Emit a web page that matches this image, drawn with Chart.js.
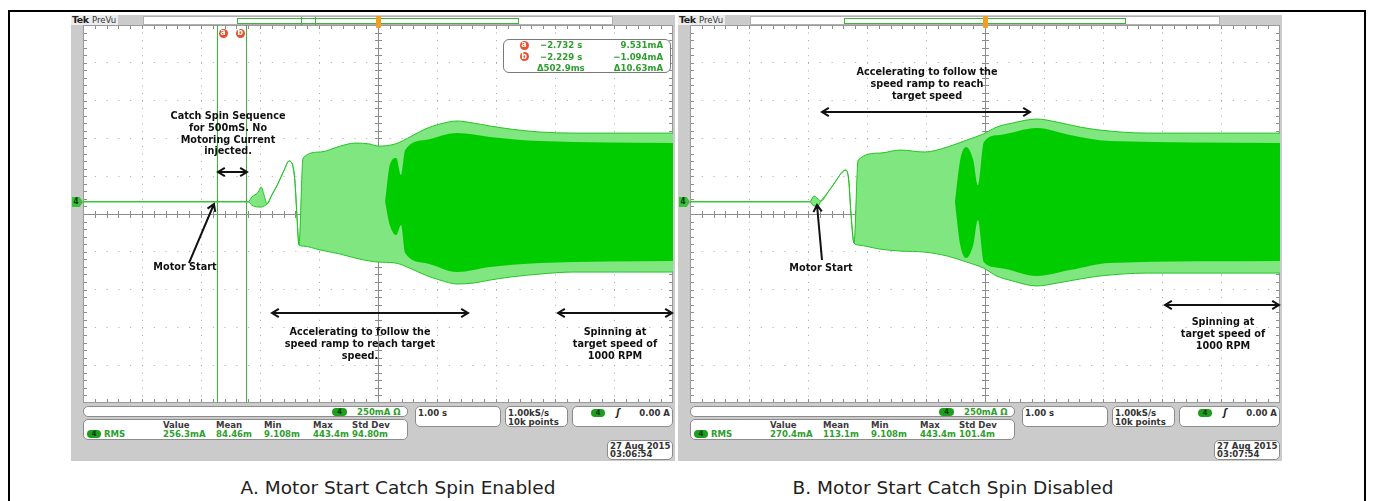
<!DOCTYPE html>
<html>
<head>
<meta charset="utf-8">
<script src="https://cdn.jsdelivr.net/npm/chart.js@4.4.0/dist/chart.umd.min.js"></script>
<style>
  body { margin: 0; background: #fff; }
  #page { position: relative; width: 1373px; height: 501px; overflow: hidden; font-family: "DejaVu Sans", sans-serif; }
  .abs { position: absolute; box-sizing: border-box; }
  .t { white-space: pre; line-height: 12px; height: 12px; }
  .st { font-family: "DejaVu Sans Condensed", "DejaVu Sans", sans-serif; font-weight: bold; font-size: 9.5px; }
  .ann { font-weight: bold; font-size: 9.7px; line-height: 11.7px; height: auto; text-align: center; color: #111; z-index: 5; }
  canvas { position: absolute; z-index: 1; background: #fff; }
  svg { position: absolute; left: 0; top: 0; z-index: 4; }
</style>
</head>
<body>
<div id="page">
  <canvas id="chartA" width="590" height="378" style="left:83px;top:25px"></canvas>
  <canvas id="chartB" width="590" height="378" style="left:690px;top:25px"></canvas>
  <svg id="arrows" width="1373" height="501"></svg>
</div>
<script>
// time in s (1.00 s/div), current in mA (250 mA/div)
const xDivs = [-5, -4, -3, -2, -1, 0, 1, 2, 3, 4, 5];
const yDivs = [-1331, -1081, -831, -581, -331, -81, 169, 419, 669, 919, 1169];

// A. catch spin enabled - outer envelope of the phase current
const tA  = [-5.0, -2.20, -2.14, -2.03, -1.98, -1.93, -1.88, -1.80, -1.69, -1.59, -1.51, -1.46, -1.41, -1.37, -1.34, -1.27, -0.98, -0.64, -0.39, -0.14, 0.0, 0.29, 0.54, 0.80, 1.05, 1.34, 1.61, 1.90, 2.24, 2.75, 3.31, 4.10, 5.0];
const upA = [0, 0, 31, 64, 97, 44, -15, 44, 124, 210, 269, 256, 144, -121, -286, 289, 329, 368, 388, 382, 368, 382, 428, 481, 514, 534, 521, 501, 481, 461, 454, 454, 454];
const loA = [0, 0, -22, -35, -35, -28, -15, 44, 124, 210, 269, 256, 144, -121, -286, -293, -319, -346, -372, -392, -399, -405, -439, -485, -518, -544, -538, -518, -498, -478, -465, -465, -465];
// dense core of the trace
const tcA  = [0.12, 0.20, 0.31, 0.39, 0.46, 0.80, 1.34, 1.90, 2.75, 5.0];
const cupA = [0, 243, 289, 177, 342, 408, 454, 428, 401, 388];
const cloA = [0, -154, -220, -154, -339, -405, -465, -432, -405, -392];
const cursorsA = [-2.732, -2.229];

// B. catch spin disabled
const tB  = [-5.0, -2.97, -2.90, -2.83, -2.78, -2.66, -2.54, -2.42, -2.36, -2.31, -2.27, -2.22, -2.15, -1.78, -1.44, -1.02, -0.64, -0.31, -0.03, 0.20, 0.47, 0.88, 1.22, 1.61, 1.95, 2.75, 5.0];
const upB = [0, 0, 38, 18, 5, 64, 130, 196, 210, 144, -88, -273, 276, 322, 342, 329, 362, 408, 448, 494, 521, 547, 527, 494, 474, 454, 454];
const loB = [0, 0, -28, -28, 5, 64, 130, 196, 210, 144, -88, -273, -286, -313, -326, -333, -359, -399, -438, -491, -524, -557, -538, -511, -491, -472, -472];
const tcB  = [-0.51, -0.42, -0.32, -0.20, -0.12, -0.02, 0.25, 0.88, 1.44, 2.12, 5.0];
const cupB = [0, 276, 362, 276, 110, 395, 441, 487, 441, 401, 388];
const cloB = [0, -286, -372, -286, -121, -399, -438, -491, -452, -405, -392];

const measHead = ["Value", "Mean", "Min", "Max", "Std Dev"];
const measA = ["256.3mA", "84.46m", "9.108m", "443.4m", "94.80m"];
const measB = ["270.4mA", "113.1m", "9.108m", "443.4m", "101.4m"];
const readA = [["-2.732 s", "9.531mA"], ["-2.229 s", "-1.094mA"], ["\u0394502.9ms", "\u039410.63mA"]];

const TRACE = "#25c425", LIGHT = "#80e680", DARK = "#00cc00", GREEN_TXT = "#2e9e2e";

const graticule = {
  id: "graticule",
  beforeDatasetsDraw(chart) {
    const { ctx, chartArea: a, scales: { x, y } } = chart;
    const cx = x.getPixelForValue(0);
    const cy = y.getPixelForValue((y.min + y.max) / 2);
    const dx = (x.getPixelForValue(1) - x.getPixelForValue(0)) / 5;
    const dy = (y.getPixelForValue(y.min) - y.getPixelForValue(y.min + 250)) / 5;
    ctx.save();
    ctx.strokeStyle = "#8c8c8c";
    ctx.lineWidth = 1;
    ctx.beginPath();
    ctx.moveTo(a.left, Math.round(cy) + 0.5); ctx.lineTo(a.right, Math.round(cy) + 0.5);
    ctx.moveTo(Math.round(cx) + 0.5, a.top); ctx.lineTo(Math.round(cx) + 0.5, a.bottom);
    for (let i = 1; i < 50; i++) {
      const px = Math.round(a.left + i * dx) + 0.5;
      ctx.moveTo(px, cy - 3); ctx.lineTo(px, cy + 4);
      ctx.moveTo(px, a.top); ctx.lineTo(px, a.top + 4);
      ctx.moveTo(px, a.bottom); ctx.lineTo(px, a.bottom - 4);
      const py = Math.round(a.top + i * dy) + 0.5;
      ctx.moveTo(cx - 3, py); ctx.lineTo(cx + 4, py);
      ctx.moveTo(a.left, py); ctx.lineTo(a.left + 4, py);
      ctx.moveTo(a.right, py); ctx.lineTo(a.right - 4, py);
    }
    ctx.stroke();
    ctx.strokeStyle = "#9a9a9a";
    ctx.strokeRect(a.left + 0.5, a.top + 0.5, a.right - a.left - 1, a.bottom - a.top - 1);
    ctx.restore();
  },
  afterDatasetsDraw(chart, args, opts) {
    const { ctx, chartArea: a, scales: { x } } = chart;
    ctx.save();
    ctx.fillStyle = "#3cb43c";
    (opts.cursors || []).forEach((c) => {
      const px = Math.round(x.getPixelForValue(c));
      ctx.fillRect(px, a.top, 1, a.bottom - a.top);
    });
    ctx.restore();
  }
};

function pts(xs, ys) { return xs.map((v, i) => ({ x: v, y: ys[i] })); }

function makeChart(id, t, up, lo, tc, cup, clo, cursors) {
  return new Chart(document.getElementById(id), {
    type: "line",
    data: {
      datasets: [
        { data: pts(tc, clo), borderWidth: 0, pointRadius: 0, fill: false },
        { data: pts(tc, cup), borderWidth: 0, pointRadius: 0, fill: "-1", backgroundColor: DARK },
        { data: pts(t, lo), borderColor: TRACE, borderWidth: 1, pointRadius: 0, fill: false },
        { data: pts(t, up), borderColor: TRACE, borderWidth: 1, pointRadius: 0, fill: "-1", backgroundColor: LIGHT }
      ]
    },
    options: {
      animation: false, responsive: false, maintainAspectRatio: false,
      layout: { padding: 0 },
      elements: { line: { cubicInterpolationMode: "monotone" } },
      plugins: { legend: { display: false }, tooltip: { enabled: false }, graticule: { cursors: cursors } },
      scales: {
        x: {
          type: "linear", min: -5, max: 5,
          afterBuildTicks: (s) => { s.ticks = xDivs.map((v) => ({ value: v })); },
          ticks: { display: false },
          grid: { drawTicks: false, color: "#a6a6a6" },
          border: { display: false, dash: [1, 6.56] }
        },
        y: {
          type: "linear", min: yDivs[0], max: yDivs[yDivs.length - 1],
          afterBuildTicks: (s) => { s.ticks = yDivs.map((v) => ({ value: v })); },
          ticks: { display: false },
          grid: { drawTicks: false, color: "#a6a6a6" },
          border: { display: false, dash: [1, 10.8] }
        }
      }
    },
    plugins: [graticule]
  });
}

makeChart("chartA", tA, upA, loA, tcA, cupA, cloA, cursorsA);
makeChart("chartB", tB, upB, loB, tcB, cupB, cloB, []);

// ---- scope chrome ----
const page = document.getElementById("page");
function box(l, t, w, h, css) {
  const d = document.createElement("div");
  d.className = "abs";
  d.style.cssText = `left:${l}px;top:${t}px;width:${w}px;height:${h}px;` + (css || "");
  page.appendChild(d);
  return d;
}
function txt(x, y, s, cls, css, align) {
  const d = document.createElement("div");
  d.className = "abs t " + (cls || "");
  d.textContent = s;
  d.style.cssText = `left:${x}px;top:${y - 6}px;` + (css || "");
  if (align === "r") d.style.transform = "translateX(-100%)";
  if (align === "c") d.style.transform = "translateX(-50%)";
  page.appendChild(d);
  return d;
}
function pill(l, y, w) {
  box(l, y - 4, w, 8, "background:#1f9d1f;border-radius:4px;z-index:2;");
  txt(l + w / 2, y, "4", "st", "font-size:7.5px;color:#083808;z-index:3;", "c");
}
function circ(cx, cy, s) {
  box(cx - 4.5, cy - 4.5, 9, 9, "background:#e8502a;border-radius:50%;z-index:3;");
  txt(cx, cy, s, "", "font-size:8px;font-weight:bold;color:#fff;z-index:4;", "c");
}

function chrome(o, meas, date, time) {
  box(71 + o, 15, 604, 446, "background:#cbcbcb;z-index:0;");
  box(71 + o, 15, 47, 10, "background:#ececec;z-index:0;");
  txt(72 + o, 20, "Tek", "", "font-size:9.5px;font-weight:bold;color:#222;letter-spacing:-0.5px;");
  txt(92 + o, 20, "PreVu", "", "font-size:8.5px;color:#333;");
  box(143 + o, 16, 470, 9, "background:#fff;border:1px solid #b0b0b0;");
  box(237 + o, 18, 282, 6, "border:1px solid #3cb43c;z-index:2;");
  box(376 + o, 16, 5, 12, "background:#f0a020;border-radius:1px;z-index:3;");
  // channel 4 ground marker
  box(72 + o, 197, 11, 10, "background:#3cbf3c;clip-path:polygon(0 0,70% 0,100% 50%,70% 100%,0 100%);z-index:2;");
  txt(76 + o, 202, "4", "st", "font-size:8px;color:#0a3a0a;z-index:3;", "c");
  // status boxes
  const bx = "background:#fff;border:1px solid #8c8c8c;border-radius:5px;";
  box(83 + o, 406, 325, 11, bx);
  pill(332 + o, 411.5, 15);
  txt(357 + o, 411.5, "250mA \u03a9", "st", "color:" + GREEN_TXT);
  box(83 + o, 419, 325, 21, bx);
  pill(87 + o, 434, 14);
  txt(104 + o, 434, "RMS", "st", "color:" + GREEN_TXT);
  const cols = [163, 216, 264, 313, 352];
  cols.forEach((c, i) => {
    txt(c + o, 425, measHead[i], "st", "color:#3a3a3a;");
    txt(c + o, 434, meas[i], "st", "color:" + GREEN_TXT);
  });
  box(415 + o, 406, 86, 21, bx);
  txt(418 + o, 413, "1.00 s", "st", "color:#333;");
  box(505 + o, 406, 63, 21, bx);
  txt(508 + o, 413, "1.00kS/s", "st", "color:#333;");
  txt(508 + o, 422, "10k points", "st", "color:#333;");
  box(572 + o, 406, 101, 21, bx);
  pill(591 + o, 413, 14);
  txt(618 + o, 413, "\u0283", "st", "color:#222;font-size:10px;font-style:italic;", "c");
  txt(670 + o, 413, "0.00 A", "st", "color:#333;", "r");
  box(607 + o, 440, 66, 20, bx);
  txt(610 + o, 445.5, date, "st", "color:#333;");
  txt(610 + o, 454, time, "st", "color:#333;");
}
chrome(0, measA, "27 Aug 2015", "03:06:54");
chrome(607, measB, "27 Aug 2015", "03:07:54");

// record bar marks for the cursors and cursor labels (panel A)
box(301, 17, 1, 8, "background:#3cb43c;z-index:3;");
box(315, 17, 1, 8, "background:#3cb43c;z-index:3;");
circ(223, 33, "a");
circ(240, 33, "b");
box(503, 39, 168, 34, "background:#fff;border:1.5px solid #7a7a7a;border-radius:6px;z-index:2;");
[45, 56.5].forEach((y, i) => circ(524, y, i ? "b" : "a"));
[45, 56.5, 68].forEach((y, i) => {
  txt(i === 2 ? 537 : 540, y, readA[i][0].replace("-", "\u2212"), "st", "color:" + GREEN_TXT + ";z-index:3;");
  txt(663, y, readA[i][1].replace("-", "\u2212"), "st", "color:" + GREEN_TXT + ";z-index:3;", "r");
});

// annotations
function ann(cx, y, s) { txt(cx, y, s, "ann", "top:" + (y - 5.85) + "px;", "c"); }
ann(228, 116, "Catch Spin Sequence\nfor 500mS. No\nMotoring Current\ninjected.");
ann(185, 267, "Motor Start");
ann(360, 332, "Accelerating to follow the\nspeed ramp to reach target\nspeed.");
ann(615, 332, "Spinning at\ntarget speed of\n1000 RPM");
ann(927, 72, "Accelerating to follow the\nspeed ramp to reach\ntarget speed");
ann(821, 268, "Motor Start");
ann(1223, 322, "Spinning at\ntarget speed of\n1000 RPM");

const svg = document.getElementById("arrows");
let paths = "";
function head(x, y, ang) {
  const a1 = ang + 0.55, a2 = ang - 0.55, L = 8;
  return `M${x - L * Math.cos(a1)} ${y - L * Math.sin(a1)} L${x} ${y} L${x - L * Math.cos(a2)} ${y - L * Math.sin(a2)} `;
}
function arrow(x1, y1, x2, y2, both) {
  const ang = Math.atan2(y2 - y1, x2 - x1);
  paths += `M${x1} ${y1} L${x2} ${y2} ` + head(x2, y2, ang);
  if (both) paths += head(x1, y1, ang + Math.PI);
}
arrow(218, 172, 247, 172, true);
arrow(189, 263, 214, 204, false);
arrow(272, 313, 468, 313, true);
arrow(558, 313, 672, 313, true);
arrow(822, 112, 1030, 112, true);
arrow(822, 260, 817, 205, false);
arrow(1165, 305, 1279, 305, true);
svg.innerHTML = `<path d="${paths}" fill="none" stroke="#111" stroke-width="2" stroke-linejoin="miter"/>`;

// captions and outer frame
txt(398, 488, "A. Motor Start Catch Spin Enabled", "", "font-size:18.5px;color:#222;line-height:20px;height:20px;top:478px;", "c");
txt(953, 488, "B. Motor Start Catch Spin Disabled", "", "font-size:18.5px;color:#222;line-height:20px;height:20px;top:478px;", "c");
box(8, 10, 1358, 520, "border:2px solid #000;z-index:6;pointer-events:none;");
</script>
</body>
</html>
